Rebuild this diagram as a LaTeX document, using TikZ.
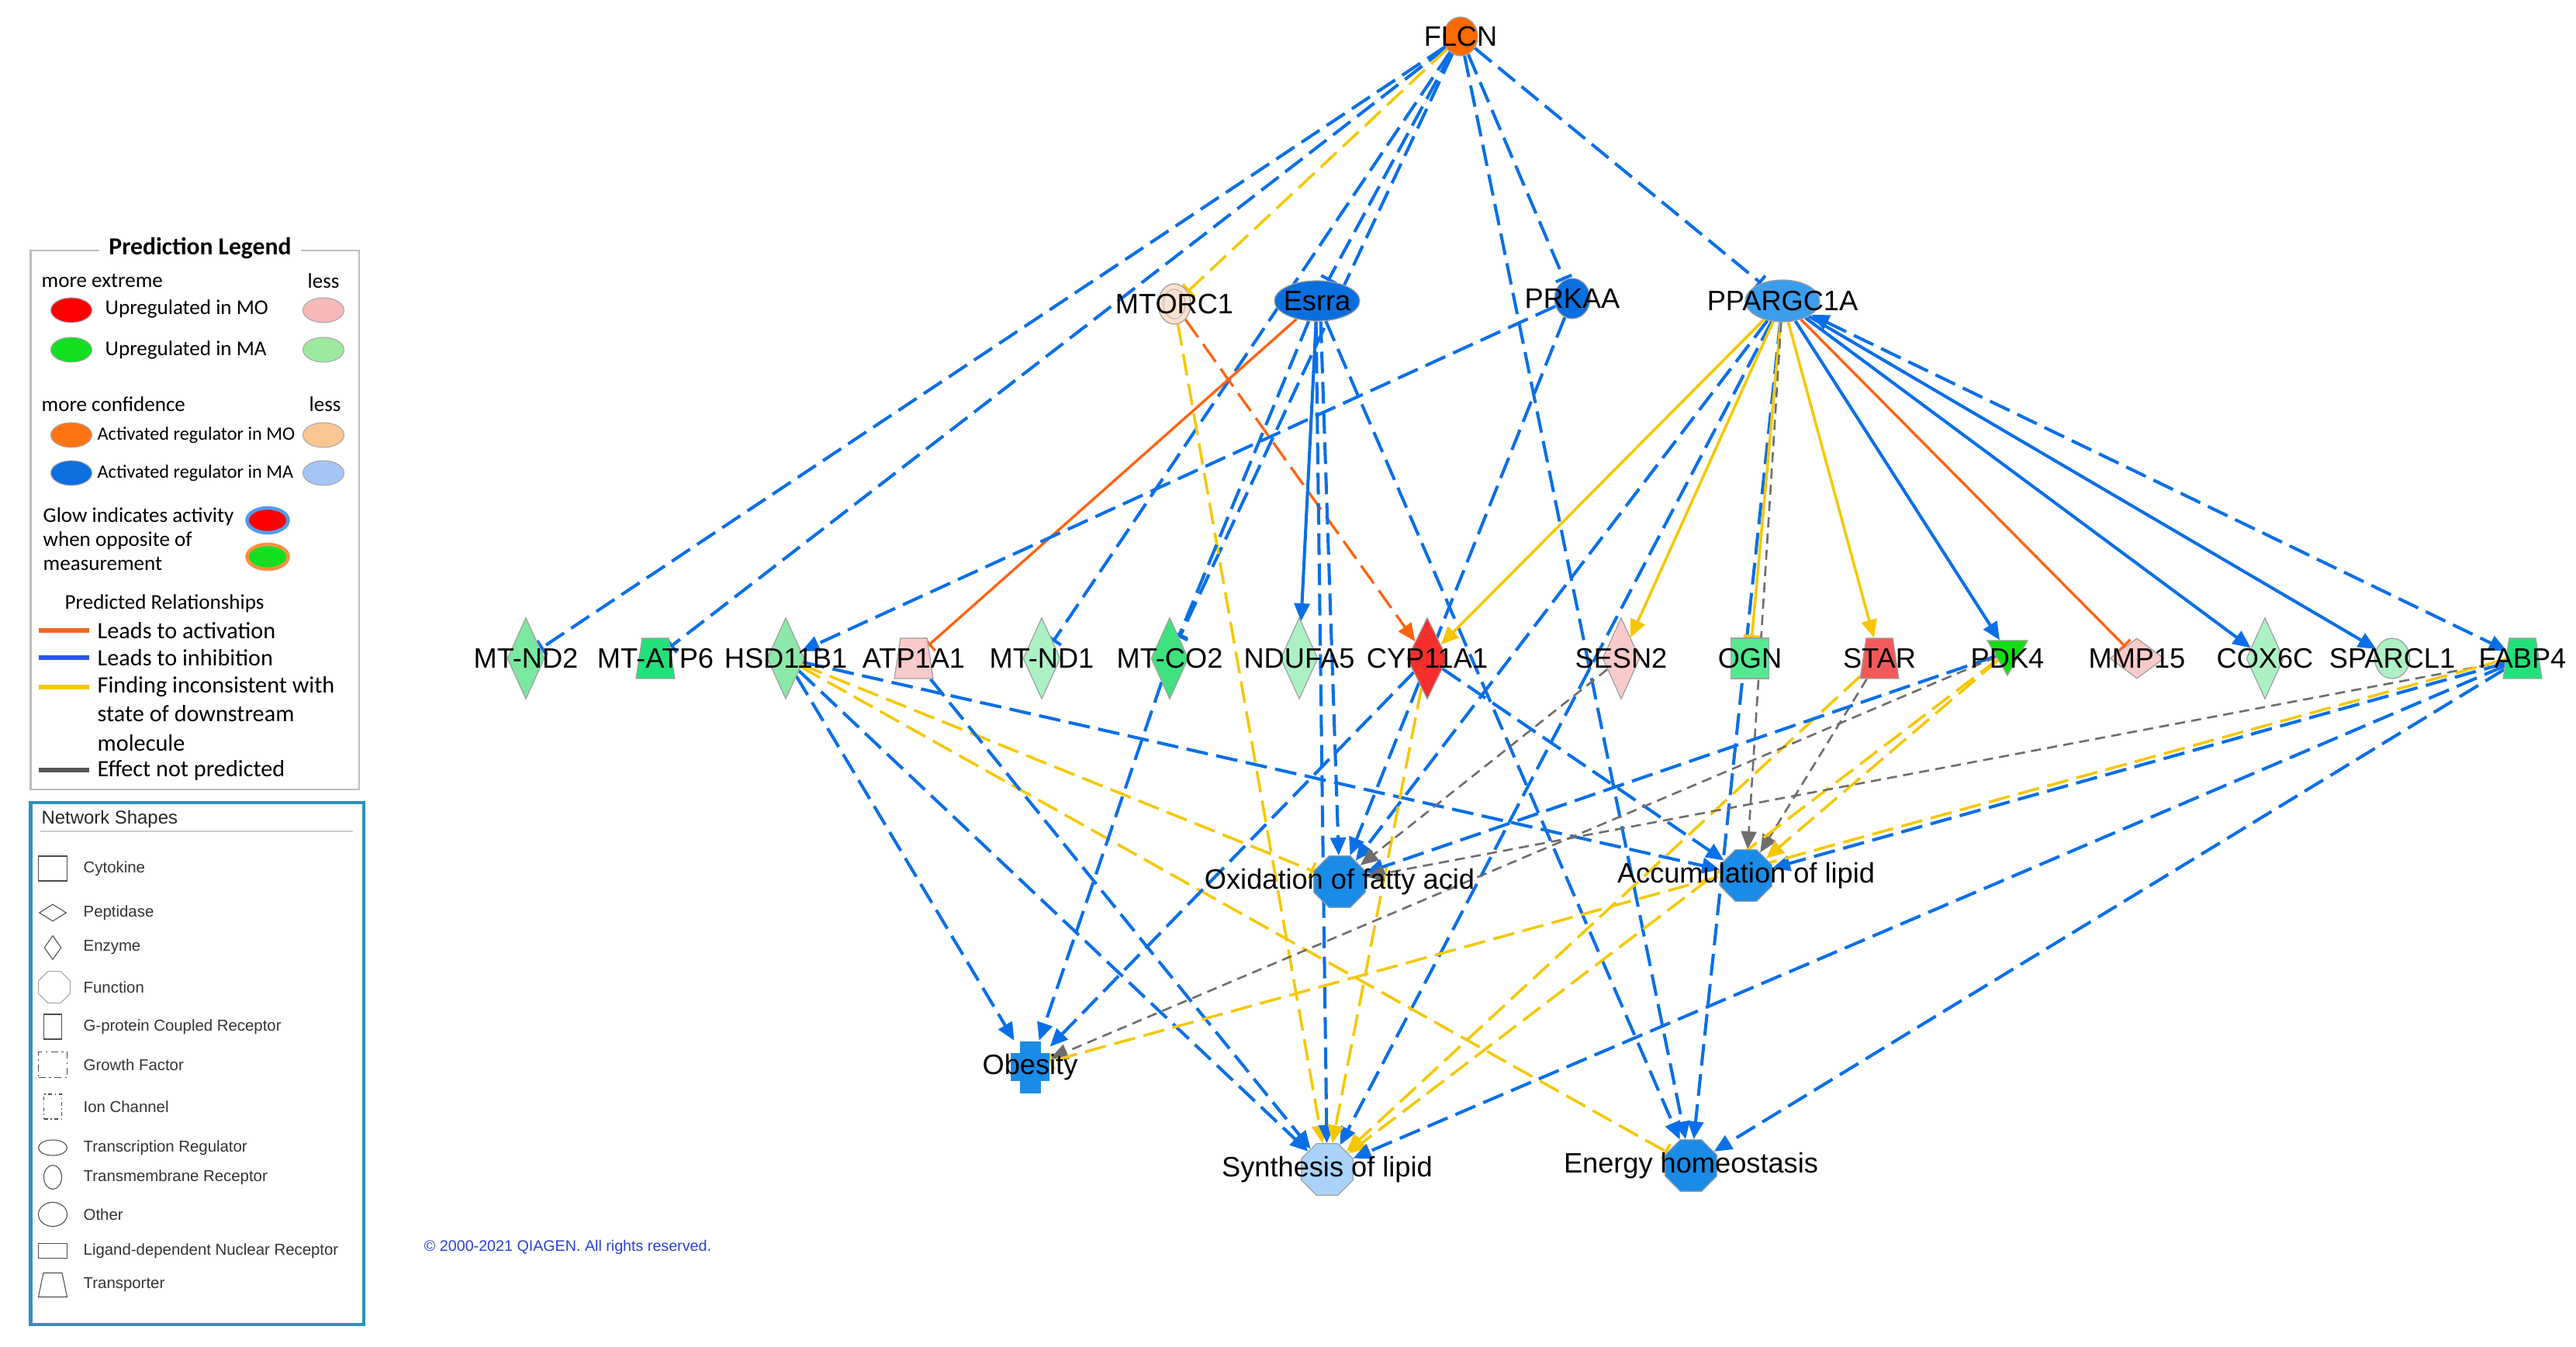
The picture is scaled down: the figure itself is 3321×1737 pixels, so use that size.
\documentclass[tikz,border=0pt]{standalone}
\usepackage{fontspec}
\setmainfont{Liberation Sans}
\newfontfamily\legendfont{Carlito}
\usetikzlibrary{arrows.meta,shapes.geometric}

\definecolor{ipablue}{HTML}{0A6FE6}
\definecolor{ipaorange}{HTML}{FF6414}
\definecolor{ipayellow}{HTML}{F6C700}
\definecolor{ipagray}{HTML}{6E6E6E}
\definecolor{regorange}{HTML}{FF6A00}
\definecolor{regblue}{HTML}{0A6FDE}
\definecolor{reglight}{HTML}{3C9DEC}
\definecolor{peach}{HTML}{FBE1CF}
\definecolor{funcblue}{HTML}{1A8BE6}
\definecolor{funclight}{HTML}{A9D3F8}
\definecolor{upred}{HTML}{F62E2E}
\definecolor{upredlt}{HTML}{F9CACA}
\definecolor{starred}{HTML}{F25A5A}
\definecolor{gnA}{HTML}{22E07A}
\definecolor{gnB}{HTML}{3EE27E}
\definecolor{gnC}{HTML}{55E891}
\definecolor{gnD}{HTML}{7AE8A0}
\definecolor{gnE}{HTML}{8CE8A8}
\definecolor{gnF}{HTML}{ACF1C4}
\definecolor{gnPDK}{HTML}{12DD12}
\definecolor{legborder}{HTML}{BDBDBD}
\definecolor{shapeborder}{HTML}{2C92BE}
\definecolor{copyblue}{HTML}{2A3FD2}
\definecolor{lgred}{HTML}{FF0000}
\definecolor{lgpink}{HTML}{F7B9B9}
\definecolor{lggreen}{HTML}{10E020}
\definecolor{lggreenlt}{HTML}{9DE99D}
\definecolor{lgorange}{HTML}{FF7412}
\definecolor{lgorangelt}{HTML}{F9C592}
\definecolor{lgblue}{HTML}{0B6FE0}
\definecolor{lgbluelt}{HTML}{A4C4F4}
\definecolor{relorange}{HTML}{F2661E}
\definecolor{relblue}{HTML}{2B55E8}
\definecolor{relgray}{HTML}{555555}

\pgfdeclarelayer{edges}
\pgfsetlayers{edges,main}

\tikzset{
  lab/.style={font=\fontsize{10.3}{12}\selectfont},
  gene/.style={draw=gray!75, line width=0.35pt, inner sep=0.3pt, label={[lab]center:#1}},
  enzyme/.style={gene=#1, diamond, minimum width=4.8mm, minimum height=10.5mm},
  transp/.style={gene=#1, trapezium, trapezium stretches=true, trapezium left angle=77, trapezium right angle=77, minimum width=5mm, minimum height=5.2mm},
  func/.style={gene=#1, regular polygon, regular polygon sides=8, minimum size=7.2mm},
  ind/.style={dash pattern=on 2.8mm off 1.1mm},
  eb/.style={draw=ipablue, line width=1.15pt},
  eo/.style={draw=ipaorange, line width=0.95pt},
  ey/.style={draw=ipayellow, line width=1pt},
  eg/.style={draw=ipagray, line width=0.75pt, dash pattern=on 1.3mm off 0.8mm},
  act/.style={-{Triangle[length=2.3mm,width=2mm]}},
  blk/.style={-{Bar[width=2.2mm]}},
  both/.style={{Triangle[length=2.3mm,width=2mm]}-{Triangle[length=2.3mm,width=2mm]}},
  legtext/.style={font=\legendfont\fontsize{7.7}{9}\selectfont, anchor=west, inner sep=0pt},
  legdot/.style={ellipse, draw=gray!70, line width=0.3pt, minimum width=5.3mm, minimum height=3.2mm, inner sep=0.3pt},
  icon/.style={draw=gray!60!black, line width=0.3pt, inner sep=0.3pt},
  icontext/.style={font=\fontsize{5.8}{7}\selectfont, text=black!80, anchor=west, inner sep=0pt}
}

\begin{document}
\begin{tikzpicture}[x=0.1mm, y=-0.1mm]
\useasboundingbox (0,0) rectangle (3321,1737);

% upstream regulators
\node[gene=FLCN, ellipse, fill=regorange, minimum width=4.4mm, minimum height=5mm] (flcn) at (1883,47) {};
\node[gene=MTORC1, ellipse, fill=peach, minimum width=4.2mm, minimum height=5.2mm,
  path picture={\draw[gray!55, line width=0.3pt] (path picture bounding box.center) ellipse (1.4mm and 1.9mm);}] (mtorc1) at (1514,392) {};
\node[gene=Esrra, ellipse, fill=regblue, minimum width=11mm, minimum height=5.2mm] (esrra) at (1698,388) {};
\node[gene=PRKAA, ellipse, fill=regblue, minimum width=4.6mm, minimum height=5.2mm] (prkaa) at (2027,385) {};
\node[gene=PPARGC1A, ellipse, fill=reglight, minimum width=9.6mm, minimum height=5.4mm] (ppar) at (2298,388) {};

% target molecules
\node[enzyme=MT-ND2, fill=gnD] (mtnd2) at (678,849) {};
\node[transp=MT-ATP6, fill=gnA] (mtatp6) at (845,849) {};
\node[enzyme=HSD11B1, fill=gnE] (hsd) at (1013,849) {};
\node[transp=ATP1A1, fill=upredlt] (atp1a1) at (1178,849) {};
\node[enzyme=MT-ND1, fill=gnF] (mtnd1) at (1343,849) {};
\node[enzyme=MT-CO2, fill=gnB] (mtco2) at (1508,849) {};
\node[enzyme=NDUFA5, fill=gnF] (ndufa5) at (1675,849) {};
\node[enzyme=CYP11A1, fill=upred, minimum width=5.2mm] (cyp) at (1840,849) {};
\node[enzyme=SESN2, fill=upredlt] (sesn2) at (2090,849) {};
\node[gene=OGN, rectangle, fill=gnC, minimum width=4.9mm, minimum height=5.2mm] (ogn) at (2256,849) {};
\node[transp=STAR, fill=starred] (star) at (2423,849) {};
\node[draw=gray!75, line width=0.35pt, inner sep=0.3pt, regular polygon, regular polygon sides=3, shape border rotate=180, minimum size=6mm, fill=gnPDK,
  label={[lab,yshift=-0.8mm]center:PDK4}] (pdk4) at (2588,841) {};
\node[gene=MMP15, diamond, fill=upredlt, minimum width=7mm, minimum height=5.2mm] (mmp15) at (2755,849) {};
\node[enzyme=COX6C, fill=gnF] (cox6c) at (2920,849) {};
\node[gene=SPARCL1, ellipse, fill=gnF, minimum width=4.5mm, minimum height=5.2mm] (sparcl1) at (3084,849) {};
\node[transp=FABP4, fill=gnA] (fabp4) at (3252,849) {};

% functions
\node[func=Oxidation of fatty acid, fill=funcblue] (oxid) at (1727,1137) {};
\node[func=Accumulation of lipid, fill=funcblue] (accum) at (2251,1129) {};
\node[func=Synthesis of lipid, fill=funclight] (synth) at (1711,1508) {};
\node[func=Energy homeostasis, fill=funcblue] (energy) at (2180,1503) {};
\node[gene=Obesity, rectangle, draw=none, minimum width=5mm, minimum height=6.7mm,
  path picture={\fill[funcblue] ([xshift=-1.35mm]path picture bounding box.north) rectangle ([xshift=1.35mm]path picture bounding box.south);
    \fill[funcblue] ([yshift=1.8mm]path picture bounding box.west) rectangle ([yshift=-1.8mm]path picture bounding box.east);}] (obesity) at (1328,1376) {};

\begin{pgfonlayer}{edges}
% FLCN
\draw[eb,ind,blk] (flcn) -- (mtnd2);
\draw[eb,ind,blk] (flcn) -- (mtatp6);
\draw[ey,ind,blk] (flcn) -- (mtorc1);
\draw[eb,ind,blk] (flcn) -- (mtnd1);
\draw[eb,ind,blk] (flcn) -- (esrra);
\draw[eb,ind,blk] (flcn) -- (mtco2);
\draw[eb,ind,blk] (flcn) -- (prkaa);
\draw[eb,ind,blk] (flcn) -- (ppar);
\draw[eb,ind,act] (flcn) -- (energy);
% MTORC1 and Esrra
\draw[eo,ind,act] (mtorc1) -- (cyp);
\draw[ey,ind,act] (mtorc1) -- (synth);
\draw[eo,blk] (esrra) -- (atp1a1);
\draw[eb,ind,blk] (esrra) -- (mtco2);
\draw[eb,act] (esrra) -- (ndufa5);
\draw[eb,ind,act] (esrra.-80) -- (oxid);
\draw[eb,ind,act] (esrra.-93) -- (synth);
\draw[eb,ind,act] (esrra) -- (energy);
% PRKAA
\draw[eb,ind,act] (prkaa) -- (hsd);
\draw[eb,ind,act] (prkaa) -- (oxid);
% PPARGC1A
\draw[ey,act] (ppar) -- (cyp);
\draw[eb,ind,act] (ppar) -- (oxid);
\draw[eb,ind,act] (ppar) -- (synth);
\draw[ey,act] (ppar) -- (sesn2);
\draw[eb,ind,act] (ppar) -- (energy);
\draw[ey,blk] (ppar) -- (ogn);
\draw[eg,act] (ppar) -- (accum);
\draw[ey,act] (ppar) -- (star);
\draw[eb,act] (ppar) -- (pdk4);
\draw[eo,blk] (ppar) -- (mmp15);
\draw[eb,act] (ppar) -- (cox6c);
\draw[eb,act] (ppar) -- (sparcl1);
\draw[eb,ind,both] (ppar) -- (fabp4);
% molecules to functions
\draw[eb,ind,act] (hsd) -- (accum);
\draw[ey,ind,blk] (hsd) -- (oxid);
\draw[ey,ind,blk] (hsd) -- (energy);
\draw[eb,ind,act] (hsd) -- (obesity);
\draw[eb,ind,act] (hsd) -- (synth);
\draw[eb,ind,act] (atp1a1) -- (synth);
\draw[eb,ind,act] (mtco2) -- (obesity);
\draw[eb,ind,act] (cyp) -- (obesity);
\draw[eb,ind,act] (cyp) -- (accum);
\draw[ey,ind,act] (cyp) -- (synth);
\draw[eg,act] (sesn2) -- (oxid);
\draw[eg,act] (star) -- (accum);
\draw[ey,ind,act] (star) -- (synth);
\draw[eb,ind,act] (pdk4) -- (oxid);
\draw[ey,ind,act] (pdk4) -- (accum);
\draw[ey,ind,act] (pdk4) -- (synth);
\draw[eg,act] (pdk4) -- (obesity);
\draw[eg,act] (fabp4) -- (oxid);
\draw[eb,ind,act] (fabp4) -- (accum);
\draw[ey,ind,blk] (fabp4.183) -- (obesity);
\draw[eb,ind,act] (fabp4) -- (synth);
\draw[eb,ind,act] (fabp4) -- (energy);
\end{pgfonlayer}

% prediction legend
\node[draw=legborder, line width=0.25mm, minimum width=42.4mm, minimum height=69.5mm, anchor=north west] (predbox) at (38,322) {};
\node[fill=white, font=\legendfont\bfseries\fontsize{9}{10}\selectfont, inner xsep=1.2mm, inner ysep=0.3mm] (predtitle) at (258,320) {Prediction Legend};
\node[legtext] (mext) at (53,362) {more extreme};
\node[legtext] (mextless) at (396,362) {less};
\node[legdot, fill=lgred] (dotred) at (92,400) {};
\node[legtext] (upmo) at (135,398) {Upregulated in MO};
\node[legdot, fill=lgpink] (dotpink) at (417,400) {};
\node[legdot, fill=lggreen] (dotgreen) at (92,451) {};
\node[legtext] (upma) at (135,451) {Upregulated in MA};
\node[legdot, fill=lggreenlt] (dotgreenlt) at (417,451) {};
\node[legtext] (mconf) at (53,521) {more confidence};
\node[legtext] (mconfless) at (398,521) {less};
\node[legdot, fill=lgorange] (dotorange) at (92,561) {};
\node[legtext, font=\legendfont\fontsize{6.9}{8}\selectfont] (actmo) at (125,561) {Activated regulator in MO};
\node[legdot, fill=lgorangelt] (dotorangelt) at (417,561) {};
\node[legdot, fill=lgblue] (dotblue) at (92,610) {};
\node[legtext, font=\legendfont\fontsize{6.9}{8}\selectfont] (actma) at (125,610) {Activated regulator in MA};
\node[legdot, fill=lgbluelt] (dotbluelt) at (417,610) {};
\node[legtext, align=left, font=\legendfont\fontsize{7.7}{8.9}\selectfont] (glow) at (55,695) {Glow indicates activity\\when opposite of\\measurement};
\node[legdot, fill=lgred, draw=ipablue!70, line width=1.3pt] (glowred) at (345,671) {};
\node[legdot, fill=lggreen, draw=lgorange!80, line width=1.3pt] (glowgreen) at (345,718) {};
\node[legtext] (predrel) at (83,778) {Predicted Relationships};
\draw[relorange, line width=0.55mm] (50,813) -- (115,813);
\draw[relblue, line width=0.55mm] (50,848) -- (115,848);
\draw[ipayellow, line width=0.55mm] (50,886) -- (115,886);
\draw[relgray, line width=0.55mm] (50,993) -- (115,993);
\node[legtext, font=\legendfont\fontsize{8.6}{10}\selectfont] (relact) at (125,813) {Leads to activation};
\node[legtext, font=\legendfont\fontsize{8.6}{10}\selectfont] (relinh) at (125,848) {Leads to inhibition};
\node[legtext, font=\legendfont\fontsize{8.6}{10.6}\selectfont, align=left, anchor=north west] (relinc) at (125,872) {Finding inconsistent with\\state of downstream\\molecule};
\node[legtext, font=\legendfont\fontsize{8.6}{10}\selectfont] (relnp) at (125,993) {Effect not predicted};

% network shapes legend
\node[draw=shapeborder, line width=0.45mm, minimum width=43mm, minimum height=67.3mm, anchor=north west] (shapebox) at (37,1033) {};
\node[font=\fontsize{6.8}{8}\selectfont, text=black!85, anchor=west, inner sep=0pt] (shapetitle) at (53,1056) {Network Shapes};
\draw[gray!40, line width=0.25mm] (52,1072) -- (455,1072);
\node[icon, rectangle, minimum width=3.7mm, minimum height=3.2mm] (icyto) at (68,1120) {};
\node[icontext] at (107,1120) {Cytokine};
\node[icon, diamond, minimum width=3.5mm, minimum height=2.2mm] (ipept) at (68,1177) {};
\node[icontext] at (107,1177) {Peptidase};
\node[icon, diamond, minimum width=2.2mm, minimum height=3.1mm] (ienz) at (68,1222) {};
\node[icontext] at (107,1222) {Enzyme};
\node[icon, draw=gray!70, regular polygon, regular polygon sides=8, minimum size=4.4mm] (ifunc) at (70,1273) {};
\node[icontext] at (107,1273) {Function};
\node[icon, rectangle, minimum width=2.3mm, minimum height=3.2mm] (igpcr) at (68,1324) {};
\node[icontext] at (107,1324) {G-protein Coupled Receptor};
\node[icon, rectangle, minimum width=3.7mm, minimum height=3.3mm, dash pattern=on 0.9mm off 0.45mm on 0.25mm off 0.45mm] (igrow) at (68,1373) {};
\node[icontext] at (107,1373) {Growth Factor};
\node[icon, rectangle, minimum width=2.3mm, minimum height=3.2mm, dash pattern=on 0.5mm off 0.35mm on 0.15mm off 0.35mm] (iion) at (68,1427) {};
\node[icontext] at (107,1427) {Ion Channel};
\node[icon, ellipse, minimum width=3.7mm, minimum height=2mm] (itrans) at (68,1480) {};
\node[icontext] at (107,1480) {Transcription Regulator};
\node[icon, ellipse, minimum width=2.3mm, minimum height=3.1mm] (itm) at (68,1518) {};
\node[icontext] at (107,1518) {Transmembrane Receptor};
\node[icon, ellipse, minimum width=3.7mm, minimum height=3.1mm] (iother) at (68,1566) {};
\node[icontext] at (107,1566) {Other};
\node[icon, rectangle, minimum width=3.7mm, minimum height=1.9mm] (ildnr) at (68,1613) {};
\node[icontext] at (107,1613) {Ligand-dependent Nuclear Receptor};
\node[icon, trapezium, trapezium stretches=true, trapezium left angle=75, trapezium right angle=75, minimum width=3.7mm, minimum height=3.1mm] (itransp) at (68,1657) {};
\node[icontext] at (107,1657) {Transporter};

\node[font=\fontsize{5.6}{7}\selectfont, text=copyblue, inner sep=0pt] (copyright) at (732,1608) {© 2000-2021 QIAGEN. All rights reserved.};
\end{tikzpicture}
\end{document}
